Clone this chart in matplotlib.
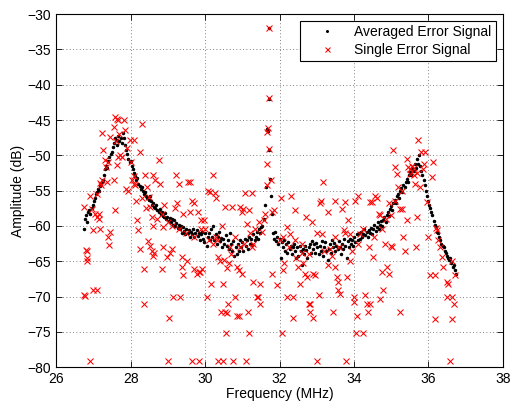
import matplotlib.pyplot as plt

# Averaged error signal (black dots)
avg_freq = [
    26.75, 26.77, 26.80, 26.83, 26.86, 26.89, 26.92, 26.95, 26.98, 27.01,
    27.04, 27.07, 27.10, 27.13, 27.16, 27.19, 27.22, 27.25, 27.28, 27.31,
    27.34, 27.37, 27.40, 27.43, 27.46, 27.49, 27.52, 27.55, 27.58, 27.61,
    27.64, 27.67, 27.70, 27.73, 27.76, 27.79, 27.82, 27.85, 27.88, 27.91,
    27.94, 27.97, 28.00, 28.03, 28.06, 28.09, 28.12, 28.15, 28.18, 28.21,
    28.24, 28.27, 28.30, 28.33, 28.36, 28.39, 28.42, 28.45, 28.48, 28.51,
    28.54, 28.57, 28.60, 28.63, 28.66, 28.69, 28.72, 28.75, 28.78, 28.81,
    28.84, 28.87, 28.90, 28.93, 28.96, 28.99, 29.02, 29.05, 29.08, 29.11,
    29.14, 29.17, 29.20, 29.23, 29.26, 29.29, 29.32, 29.35, 29.38, 29.41,
    29.44, 29.47, 29.50, 29.53, 29.56, 29.59, 29.62, 29.65, 29.68, 29.71,
    29.74, 29.77, 29.80, 29.83, 29.86, 29.89, 29.92, 29.95, 29.98, 30.01,
    30.04, 30.07, 30.10, 30.13, 30.16, 30.19, 30.22, 30.25, 30.28, 30.31,
    30.34, 30.37, 30.40, 30.43, 30.46, 30.49, 30.52, 30.55, 30.58, 30.61,
    30.64, 30.67, 30.70, 30.73, 30.76, 30.79, 30.82, 30.85, 30.88, 30.91,
    30.94, 30.97, 31.00, 31.03, 31.06, 31.09, 31.12, 31.15, 31.18, 31.21,
    31.24, 31.27, 31.30, 31.33, 31.36, 31.39, 31.42, 31.45, 31.48, 31.51,
    31.54, 31.57, 31.60, 31.63, 31.66, 31.69, 31.71, 31.72, 31.73, 31.75,
    31.77, 31.79, 31.82, 31.85, 31.88, 31.91, 31.94, 31.97, 32.00, 32.03,
    32.06, 32.09, 32.12, 32.15, 32.18, 32.21, 32.24, 32.27, 32.30, 32.33,
    32.36, 32.39, 32.42, 32.45, 32.48, 32.51, 32.54, 32.57, 32.60, 32.63,
    32.66, 32.69, 32.72, 32.75, 32.78, 32.81, 32.84, 32.87, 32.90, 32.93,
    32.96, 32.99, 33.02, 33.05, 33.08, 33.11, 33.14, 33.17, 33.20, 33.23,
    33.26, 33.29, 33.32, 33.35, 33.38, 33.41, 33.44, 33.47, 33.50, 33.53,
    33.56, 33.59, 33.62, 33.65, 33.68, 33.71, 33.74, 33.77, 33.80, 33.83,
    33.86, 33.89, 33.92, 33.95, 33.98, 34.01, 34.04, 34.07, 34.10, 34.13,
    34.16, 34.19, 34.22, 34.25, 34.28, 34.31, 34.34, 34.37, 34.40, 34.43,
    34.46, 34.49, 34.52, 34.55, 34.58, 34.61, 34.64, 34.67, 34.70, 34.73,
    34.76, 34.79, 34.82, 34.85, 34.88, 34.91, 34.94, 34.97, 35.00, 35.03,
    35.06, 35.09, 35.12, 35.15, 35.18, 35.21, 35.24, 35.27, 35.30, 35.33,
    35.36, 35.39, 35.42, 35.45, 35.48, 35.51, 35.54, 35.57, 35.60, 35.63,
    35.66, 35.69, 35.72, 35.75, 35.78, 35.81, 35.84, 35.87, 35.90, 35.93,
    35.96, 35.99, 36.02, 36.05, 36.08, 36.11, 36.14, 36.17, 36.20, 36.23,
    36.26, 36.29, 36.32, 36.35, 36.38, 36.41, 36.44, 36.47, 36.50, 36.53,
    36.56, 36.59, 36.62, 36.65, 36.68, 36.71, 36.74,
]
avg_amp = [
    -60.5, -59.0, -58.5, -59.5, -58.0, -57.8, -58.3, -57.5, -57.0, -56.5,
    -56.0, -55.5, -55.2, -54.8, -55.0, -54.3, -53.8, -53.5, -52.8, -52.0,
    -51.5, -51.8, -50.8, -50.2, -49.8, -49.5, -48.8, -48.2, -47.5, -47.8,
    -48.5, -47.2, -48.0, -47.5, -48.2, -46.8, -47.5, -48.5, -49.2, -49.8,
    -50.5, -51.0, -50.8, -51.5, -52.0, -52.5, -53.0, -53.5, -53.2, -54.0,
    -54.3, -54.8, -54.5, -55.0, -55.5, -55.2, -55.8, -56.0, -56.3, -55.8,
    -56.5, -57.0, -56.8, -57.3, -57.5, -57.0, -57.8, -58.0, -57.6, -58.3,
    -58.0, -58.6, -58.8, -58.2, -59.0, -58.7, -59.3, -58.9, -59.5, -59.0,
    -59.8, -59.2, -60.0, -59.6, -60.3, -59.8, -60.5, -60.0, -61.0, -60.2,
    -60.7, -61.2, -60.4, -61.0, -60.6, -61.5, -60.8, -61.2, -60.5, -61.6,
    -61.0, -60.6, -61.4, -61.0, -62.0, -61.2, -60.8, -61.8, -62.3, -61.0,
    -62.8, -61.5, -61.0, -62.0, -60.5, -61.6, -60.0, -62.0, -61.2, -62.5,
    -61.5, -60.8, -62.2, -61.7, -63.0, -61.8, -62.5, -61.3, -62.8, -62.0,
    -63.2, -61.0, -62.6, -63.5, -62.2, -64.3, -63.0, -64.0, -62.5, -63.6,
    -62.0, -63.0, -62.3, -63.5, -61.8, -62.8, -62.0, -63.2, -61.5, -62.5,
    -61.8, -62.7, -61.2, -62.0, -61.5, -60.8, -61.8, -60.5, -61.0, -60.2,
    -60.0, -59.0, -57.0, -54.5, -46.3, -46.5, -32.0, -42.0, -49.2, -53.3,
    -55.8, -58.3, -61.0, -61.8, -60.8, -62.2, -61.5, -62.5, -61.8, -64.5,
    -62.3, -63.0, -62.0, -63.5, -62.6, -63.8, -62.3, -63.2, -62.8, -64.0,
    -63.0, -62.5, -63.6, -64.5, -63.0, -64.2, -62.8, -63.5, -65.5, -63.2,
    -64.0, -62.8, -63.4, -64.5, -63.0, -62.5, -63.8, -62.2, -63.2, -62.6,
    -63.8, -62.4, -63.0, -64.0, -62.8, -63.5, -62.2, -64.2, -63.0, -62.3,
    -63.6, -64.8, -63.2, -62.5, -63.8, -62.0, -63.0, -62.4, -63.6, -62.8,
    -63.3, -62.2, -63.0, -64.0, -62.5, -63.2, -61.8, -62.8, -64.5, -62.2,
    -63.0, -61.8, -62.5, -62.0, -62.8, -61.5, -62.3, -61.2, -62.0, -61.0,
    -61.8, -60.8, -61.5, -61.2, -60.5, -61.3, -60.8, -61.6, -60.6, -61.0,
    -60.3, -61.2, -60.5, -59.8, -60.7, -60.2, -59.5, -60.4, -59.8, -59.3,
    -60.0, -59.2, -58.8, -59.5, -58.4, -58.0, -58.6, -57.6, -57.2, -57.8,
    -56.8, -56.3, -56.8, -55.8, -55.5, -56.0, -55.0, -54.6, -55.2, -54.2,
    -54.5, -53.8, -53.3, -53.8, -52.8, -52.3, -52.8, -51.8, -52.2, -51.3,
    -51.8, -50.5, -51.2, -50.0, -51.5, -52.2, -52.8, -53.5, -54.2, -55.0,
    -55.8, -56.5, -57.0, -57.5, -58.0, -58.5, -59.3, -59.8, -60.2, -60.8,
    -61.0, -61.5, -62.0, -62.5, -62.8, -63.0, -63.5, -63.8, -64.2, -64.5,
    -64.8, -64.5, -65.3, -65.8, -65.5, -66.3, -66.8,
]

# Single error signal (red crosses)
single_freq = [
    26.75, 26.78, 26.75, 26.81, 26.84, 26.82, 26.84, 26.90, 26.91, 26.96,
    26.98, 27.09, 27.00, 27.05, 27.09, 27.14, 27.15, 27.18, 27.18, 27.23,
    27.23, 27.27, 27.32, 27.34, 27.36, 27.39, 27.43, 27.45, 27.45, 27.54,
    27.58, 27.63, 27.67, 27.58, 27.54, 27.63, 27.67, 27.72, 27.76, 27.83,
    27.85, 27.88, 27.94, 27.99, 28.08, 28.03, 28.08, 28.12, 28.15, 28.17,
    28.21, 28.26, 28.30, 28.26, 28.35, 28.35, 28.39, 28.44, 28.48, 28.52,
    28.57, 28.61, 28.66, 28.46, 28.51, 28.57, 28.61, 28.63, 28.75, 28.79,
    28.84, 28.88, 28.84, 28.88, 29.00, 29.02, 28.97, 29.06, 29.12, 29.15,
    29.33, 29.21, 29.24, 29.29, 29.38, 29.38, 29.42, 29.42, 29.51, 29.55,
    29.60, 29.64, 29.69, 29.69, 29.78, 29.84, 29.87, 29.91, 29.66, 29.85,
    29.89, 29.97, 30.05, 30.09, 30.14, 30.15, 30.20, 30.27, 30.30, 30.32,
    30.36, 30.40, 30.36, 30.49, 30.43, 30.49, 30.54, 30.58, 30.57, 30.61,
    30.63, 30.67, 30.54, 30.72, 30.76, 30.81, 30.85, 30.90, 30.85, 30.90,
    30.99, 30.94, 31.03, 31.08, 31.10, 31.14, 31.17, 31.17, 31.12, 31.26,
    31.30, 31.39, 31.43, 31.48, 31.48, 31.52, 31.57, 31.61, 31.66, 31.66,
    31.67, 31.68, 31.71, 31.71, 31.73, 31.77, 31.79, 31.84, 31.81, 31.94,
    32.00, 32.03, 32.06, 32.09, 32.13, 32.20, 32.21, 32.28, 32.31, 32.36,
    32.37, 32.42, 32.42, 32.51, 32.55, 32.60, 32.64, 32.69, 32.73, 32.71,
    32.78, 32.82, 32.82, 32.87, 32.91, 32.91, 32.96, 33.02, 33.05, 33.09,
    33.11, 33.14, 33.18, 33.31, 33.36, 33.40, 33.43, 33.48, 33.49, 33.54,
    33.58, 33.58, 33.63, 33.67, 33.72, 33.76, 33.79, 33.81, 33.85, 33.90,
    33.94, 33.99, 34.00, 34.03, 34.06, 34.09, 34.12, 34.16, 34.24, 34.30,
    34.34, 34.39, 34.43, 34.43, 34.48, 34.52, 34.57, 34.61, 34.66, 34.70,
    34.70, 34.75, 34.79, 34.84, 34.88, 34.93, 34.95, 34.99, 35.02, 35.06,
    35.10, 35.15, 35.19, 35.24, 35.24, 35.28, 35.33, 35.36, 35.42, 35.46,
    35.51, 35.42, 35.60, 35.64, 35.67, 35.69, 35.73, 35.78, 35.80, 35.87,
    35.91, 35.96, 36.00, 36.03, 36.09, 36.13, 36.18, 36.18, 36.21, 36.24,
    36.27, 36.31, 36.36, 36.40, 36.49, 36.54, 36.49, 36.58, 36.63, 36.63,
    36.64, 36.69, 36.72, 29.00, 29.10, 29.50, 29.70, 29.90, 30.20, 30.30,
    30.50, 30.60, 30.70, 30.95, 31.05, 31.20, 31.30, 31.35, 31.45, 32.10,
    32.25, 32.45, 32.60, 32.80, 33.00, 33.20, 33.30, 33.50, 33.60, 33.75,
    33.90, 34.10, 34.25, 34.40, 34.55, 34.75, 34.85, 35.00, 35.10, 35.30,
    35.50, 35.55, 35.62, 35.70, 35.85, 27.10, 27.20, 27.40, 27.60, 27.70,
    27.90, 28.00, 28.10, 28.30, 28.40, 28.60, 28.70, 28.90, 29.20, 29.30,
    29.60, 29.80, 30.00, 30.10, 30.45, 30.80, 31.00, 31.25,
]
single_amp = [
    -57.3, -69.9, -69.8, -63.4, -63.6, -64.6, -65.0, -79.2, -55.8, -57.6,
    -69.1, -69.1, -60.6, -58.3, -58.7, -58.3, -59.0, -60.4, -53.9, -53.5,
    -46.9, -49.3, -50.7, -51.6, -53.8, -61.6, -62.7, -60.9, -47.4, -46.0,
    -44.6, -44.8, -45.0, -57.8, -53.5, -51.4, -50.2, -50.0, -50.2, -45.0,
    -46.4, -54.7, -55.0, -47.9, -47.9, -53.5, -54.0, -54.2, -56.4, -59.2,
    -60.6, -63.2, -45.5, -49.5, -71.0, -66.1, -52.8, -54.5, -55.9, -57.3,
    -58.7, -52.8, -53.5, -62.2, -62.8, -63.5, -64.2, -63.9, -50.7, -54.0,
    -58.3, -60.2, -66.1, -63.0, -79.2, -73.1, -64.4, -63.9, -63.2, -70.1,
    -70.1, -52.8, -56.8, -54.0, -64.4, -65.8, -67.0, -58.3, -64.9, -53.8,
    -53.8, -56.4, -56.8, -66.1, -66.8, -66.5, -66.5, -66.1, -79.2, -79.2,
    -59.2, -59.2, -70.1, -55.0, -55.2, -68.2, -52.8, -55.4, -56.1, -62.0,
    -64.4, -64.9, -79.2, -79.2, -72.2, -68.2, -72.2, -72.4, -75.2, -71.0,
    -65.3, -63.0, -57.3, -57.3, -79.2, -70.1, -72.7, -72.7, -65.8, -66.3,
    -66.8, -57.3, -57.6, -55.4, -79.2, -72.2, -75.2, -57.8, -59.7, -55.4,
    -67.9, -70.1, -70.1, -71.0, -68.2, -60.9, -59.2, -58.3, -54.2, -51.2,
    -46.7, -46.2, -41.9, -32.0, -49.1, -53.5, -58.0, -57.8, -66.8, -68.3,
    -62.0, -56.1, -75.2, -66.3, -65.3, -60.2, -70.0, -61.1, -55.8, -70.0,
    -73.1, -62.0, -57.8, -65.8, -68.2, -63.9, -65.3, -66.8, -67.2, -58.7,
    -71.0, -71.0, -72.2, -59.4, -73.1, -66.8, -67.0, -79.2, -69.8, -56.8,
    -56.4, -61.1, -53.8, -58.0, -63.2, -64.2, -72.2, -56.5, -65.8, -67.2,
    -67.9, -69.1, -69.6, -57.6, -60.6, -56.6, -79.2, -67.2, -59.2, -61.1,
    -63.5, -70.1, -70.8, -56.4, -75.2, -72.7, -55.7, -61.1, -75.2, -69.8,
    -71.0, -72.2, -71.0, -56.6, -56.6, -64.4, -55.7, -56.1, -58.3, -58.5,
    -70.3, -66.5, -69.1, -62.5, -65.8, -66.8, -56.8, -62.8, -63.0, -49.3,
    -51.6, -52.6, -54.5, -57.6, -72.2, -57.6, -61.6, -63.5, -50.5, -51.6,
    -52.6, -59.2, -52.8, -54.0, -63.0, -58.7, -47.9, -54.5, -49.5, -51.2,
    -49.5, -56.6, -61.6, -67.0, -53.1, -50.9, -67.0, -73.2, -60.3, -60.6,
    -62.0, -63.0, -64.4, -65.8, -68.0, -68.2, -70.0, -79.2, -64.9, -70.1,
    -73.2, -71.0, -67.0, -59.5, -60.0, -61.0, -61.5, -60.5, -62.5, -61.5,
    -64.8, -66.0, -64.0, -63.0, -62.5, -61.0, -62.5, -60.5, -59.5, -61.5,
    -63.0, -64.5, -62.5, -64.0, -61.0, -63.5, -65.5, -61.5, -63.0, -61.0,
    -65.0, -62.5, -60.5, -63.0, -61.5, -60.5, -59.0, -58.5, -56.5, -55.0,
    -52.0, -51.5, -51.8, -52.5, -52.0, -55.5, -54.2, -51.0, -48.0, -47.0,
    -49.0, -51.0, -53.0, -56.0, -57.5, -60.0, -59.0, -57.0, -57.5, -60.5,
    -58.0, -58.0, -60.5, -62.0, -60.0, -61.5, -58.0, -63.0,
]

plt.rcParams['font.family'] = ['Liberation Sans', 'DejaVu Sans']
plt.rcParams['font.size'] = 10

fig = plt.figure(figsize=(5.11, 4.03), dpi=100)
ax = fig.add_axes([0.110, 0.089, 0.874, 0.876])

ax.plot(avg_freq, avg_amp, 'k.', markersize=3, label='Averaged Error Signal')
ax.plot(single_freq, single_amp, 'rx', markersize=4.5, markeredgewidth=0.75,
        label='Single Error Signal')

ax.set_xlim(26, 38)
ax.set_ylim(-80, -30)
ax.set_xticks(range(26, 39, 2))
ax.set_yticks(range(-80, -29, 5))
ax.grid(True, color='0.35', linestyle=(0, (1, 3)), linewidth=0.6)
ax.tick_params(direction='in', top=True, right=True, length=4, width=0.6)
for s in ax.spines.values():
    s.set_linewidth(0.8)

ax.set_xlabel('Frequency (MHz)', labelpad=1)
ax.set_ylabel('Amplitude (dB)', labelpad=2)

leg = ax.legend(loc='upper right', fancybox=False, framealpha=1,
                edgecolor='k', borderaxespad=0.5, handlelength=3.3,
                handletextpad=0.3, borderpad=0.3, labelspacing=0.25,
                markerscale=0.8)
leg.get_frame().set_linewidth(0.8)

fig.savefig('out.png', dpi=100)
